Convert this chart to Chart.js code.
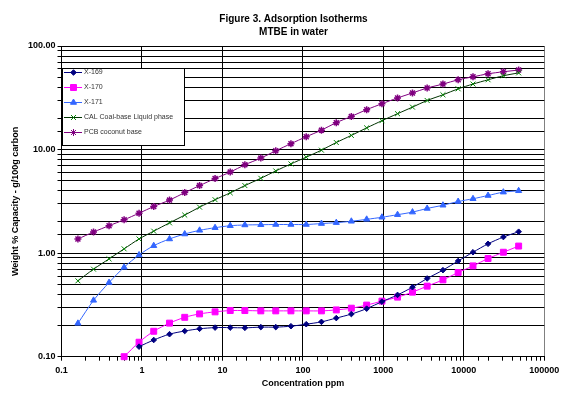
<!DOCTYPE html>
<html>
<head>
<meta charset="utf-8">
<script src="https://cdn.jsdelivr.net/npm/chart.js@4.4.1/dist/chart.umd.min.js"></script>
<style>
  html, body { margin: 0; padding: 0; background: #fff; }
  #wrap { width: 587px; height: 402px; }
</style>
</head>
<body>
<div id="wrap"><canvas id="isoChart" width="587" height="402"></canvas></div>
<script>
// concentration in ppm, shared by every series
const concentration = [0.16, 0.25, 0.39, 0.6, 0.92, 1.4, 2.2, 3.4, 5.2, 8.1,
  12.5, 19, 30, 46, 71, 110, 170, 260, 400, 620,
  960, 1500, 2300, 3500, 5500, 8500, 13000, 20000, 31000, 48000];

// weight % capacity (g/100g carbon), null = no point
const x169 = [null, null, null, null, 0.125, 0.145, 0.165, 0.177, 0.186, 0.191,
  0.191, 0.190, 0.193, 0.193, 0.197, 0.206, 0.217, 0.236, 0.258, 0.291,
  0.34, 0.395, 0.469, 0.569, 0.685, 0.84, 1.02, 1.23, 1.43, 1.61];
const x170 = [null, null, null, 0.10, 0.138, 0.176, 0.211, 0.24, 0.259, 0.271,
  0.279, 0.279, 0.277, 0.277, 0.277, 0.277, 0.277, 0.283, 0.294, 0.315,
  0.344, 0.376, 0.42, 0.48, 0.552, 0.65, 0.753, 0.887, 1.02, 1.17];
const x171 = [0.21, 0.35, 0.52, 0.73, 0.96, 1.18, 1.37, 1.53, 1.66, 1.76,
  1.84, 1.87, 1.88, 1.89, 1.89, 1.89, 1.93, 1.97, 2.03, 2.12,
  2.22, 2.35, 2.49, 2.70, 2.90, 3.15, 3.35, 3.6, 3.88, 4.0];
const calCoal = [0.54, 0.70, 0.88, 1.10, 1.37, 1.63, 1.96, 2.33, 2.78, 3.28,
  3.82, 4.49, 5.28, 6.22, 7.27, 8.45, 9.87, 11.7, 13.7, 16.2,
  19.0, 22.2, 25.7, 29.8, 33.8, 38.6, 42.9, 47.2, 51.6, 55.0];
const pcbCoconut = [1.37, 1.60, 1.84, 2.10, 2.43, 2.82, 3.25, 3.84, 4.49, 5.25,
  6.06, 7.13, 8.27, 9.73, 11.4, 13.3, 15.4, 18.2, 20.9, 24.3,
  27.7, 31.5, 35.2, 39.3, 42.9, 47.2, 50.4, 53.9, 56.4, 58.6];

const seriesNames = ['X-169', 'X-170', 'X-171', 'CAL Coal-base Liquid phase', 'PCB coconut base'];
const titleLines = ['Figure 3. Adsorption Isotherms', 'MTBE in water'];
const xTickLabels = ['0.1', '1', '10', '100', '1000', '10000', '100000'];
const yTickLabels = ['0.10', '1.00', '10.00', '100.00'];

function pairs(ys) {
  const out = [];
  ys.forEach((y, i) => {
    if (y !== null) out.push({ x: concentration[i], y: y });
  });
  return out;
}

function decadeIndex(v, lowest) {
  const e = Math.log10(v);
  if (Math.abs(e - Math.round(e)) > 1e-6) return -1;
  return Math.round(e) - lowest;
}

const fontName = '"Liberation Sans", Arial, sans-serif';

// title centred on the whole canvas (the built-in one centres on the padded box)
const pageTitle = {
  id: 'pageTitle',
  afterDraw(chart) {
    const ctx = chart.ctx;
    ctx.save();
    ctx.fillStyle = '#000';
    ctx.font = 'bold 10px ' + fontName;
    ctx.textAlign = 'center';
    ctx.textBaseline = 'middle';
    titleLines.forEach((t, i) => ctx.fillText(t, chart.width / 2, 19.5 + i * 12.5));
    ctx.restore();
  }
};

// legend drawn as a box inside the plot, like the original
const boxLegend = {
  id: 'boxLegend',
  afterDraw(chart) {
    const ctx = chart.ctx;
    ctx.save();
    ctx.fillStyle = '#fff';
    ctx.fillRect(62.5, 68.5, 122, 77);
    ctx.strokeStyle = '#000';
    ctx.lineWidth = 1;
    ctx.strokeRect(62.5, 68.5, 122, 77);
    chart.data.datasets.forEach((ds, i) => {
      const y = 72.5 + i * 15;
      ctx.strokeStyle = ds.borderColor;
      ctx.lineWidth = 1;
      ctx.beginPath();
      ctx.moveTo(64, y);
      ctx.lineTo(82, y);
      ctx.stroke();
      ctx.fillStyle = ds.pointBackgroundColor;
      ctx.strokeStyle = ds.pointBorderColor;
      Chart.helpers.drawPoint(ctx, {
        pointStyle: ds.pointStyle,
        radius: ds.pointRadius,
        borderWidth: ds.pointBorderWidth,
        rotation: 0
      }, 73.5, y);
      ctx.fillStyle = '#333';
      ctx.font = '7px ' + fontName;
      ctx.textBaseline = 'middle';
      ctx.textAlign = 'left';
      ctx.fillText(ds.label, 84, y);
    });
    ctx.restore();
  }
};

const ctx = document.getElementById('isoChart').getContext('2d');

new Chart(ctx, {
  type: 'scatter',
  data: {
    datasets: [{
      label: seriesNames[0],
      data: pairs(x169),
      borderColor: '#000080',
      pointBackgroundColor: '#000080',
      pointBorderColor: '#000080',
      pointStyle: 'rectRot',
      pointRadius: 2.8,
      pointBorderWidth: 1
    },
    {
      label: seriesNames[1],
      data: pairs(x170),
      borderColor: '#ff00ff',
      pointBackgroundColor: '#ff00ff',
      pointBorderColor: '#ff00ff',
      pointStyle: 'rect',
      pointRadius: 4.2,
      pointBorderWidth: 1
    },
    {
      label: seriesNames[2],
      data: pairs(x171),
      borderColor: '#3366ff',
      pointBackgroundColor: '#3366ff',
      pointBorderColor: '#3366ff',
      pointStyle: 'triangle',
      pointRadius: 3.5,
      pointBorderWidth: 1
    },
    {
      label: seriesNames[3],
      data: pairs(calCoal),
      borderColor: '#003300',
      pointBackgroundColor: '#008000',
      pointBorderColor: '#008000',
      pointStyle: 'crossRot',
      pointRadius: 3.5,
      pointBorderWidth: 1
    },
    {
      label: seriesNames[4],
      data: pairs(pcbCoconut),
      borderColor: '#800080',
      pointBackgroundColor: '#800080',
      pointBorderColor: '#800080',
      pointStyle: 'star',
      pointRadius: 3.5,
      pointBorderWidth: 1.5
    }]
  },
  options: {
    responsive: false,
    animation: false,
    showLine: true,
    clip: false,
    elements: {
      line: { borderWidth: 1, tension: 0.3 },
      point: { hoverRadius: 3.5 }
    },
    layout: {
      padding: { left: 0, right: 42.7, top: 46, bottom: 0 }
    },
    plugins: {
      legend: { display: false },
      tooltip: { enabled: false },
      title: { display: false }
    },
    scales: {
      x: {
        type: 'logarithmic',
        min: 0.1,
        max: 100000,
        afterFit: (scale) => { scale.height = 45.3; },
        border: { color: '#000', width: 1 },
        grid: {
          color: (c) => {
            const k = decadeIndex(c.tick.value, -1);
            if (k < 0) return 'rgba(0,0,0,0)';
            return k === 6 ? '#808080' : '#000';
          },
          tickColor: '#000',
          tickLength: 4,
          lineWidth: 1
        },
        ticks: {
          autoSkip: false,
          maxRotation: 0,
          padding: 4,
          color: '#000',
          font: { family: fontName, size: 9, weight: 'bold' },
          callback: (v) => {
            const k = decadeIndex(v, -1);
            return k >= 0 ? xTickLabels[k] : '';
          }
        },
        title: {
          display: true,
          text: 'Concentration ppm',
          color: '#000',
          font: { family: fontName, size: 9, weight: 'bold' },
          padding: { top: 0, bottom: 13.3 }
        }
      },
      y: {
        type: 'logarithmic',
        min: 0.1,
        max: 100,
        afterFit: (scale) => { scale.width = 61.5; },
        border: { color: '#000', width: 1 },
        grid: {
          color: '#000',
          tickColor: '#000',
          tickLength: 4,
          lineWidth: 1
        },
        ticks: {
          autoSkip: false,
          padding: 2,
          color: '#000',
          font: { family: fontName, size: 9, weight: 'bold' },
          callback: (v) => {
            const k = decadeIndex(v, -1);
            return k >= 0 ? yTickLabels[k] : '';
          }
        },
        title: {
          display: true,
          text: 'Weight % Capacity - g/100g carbon',
          color: '#000',
          font: { family: fontName, size: 9, weight: 'bold' },
          padding: { top: 10.6, bottom: 0 }
        }
      }
    }
  },
  plugins: [pageTitle, boxLegend]
});
</script>
</body>
</html>
